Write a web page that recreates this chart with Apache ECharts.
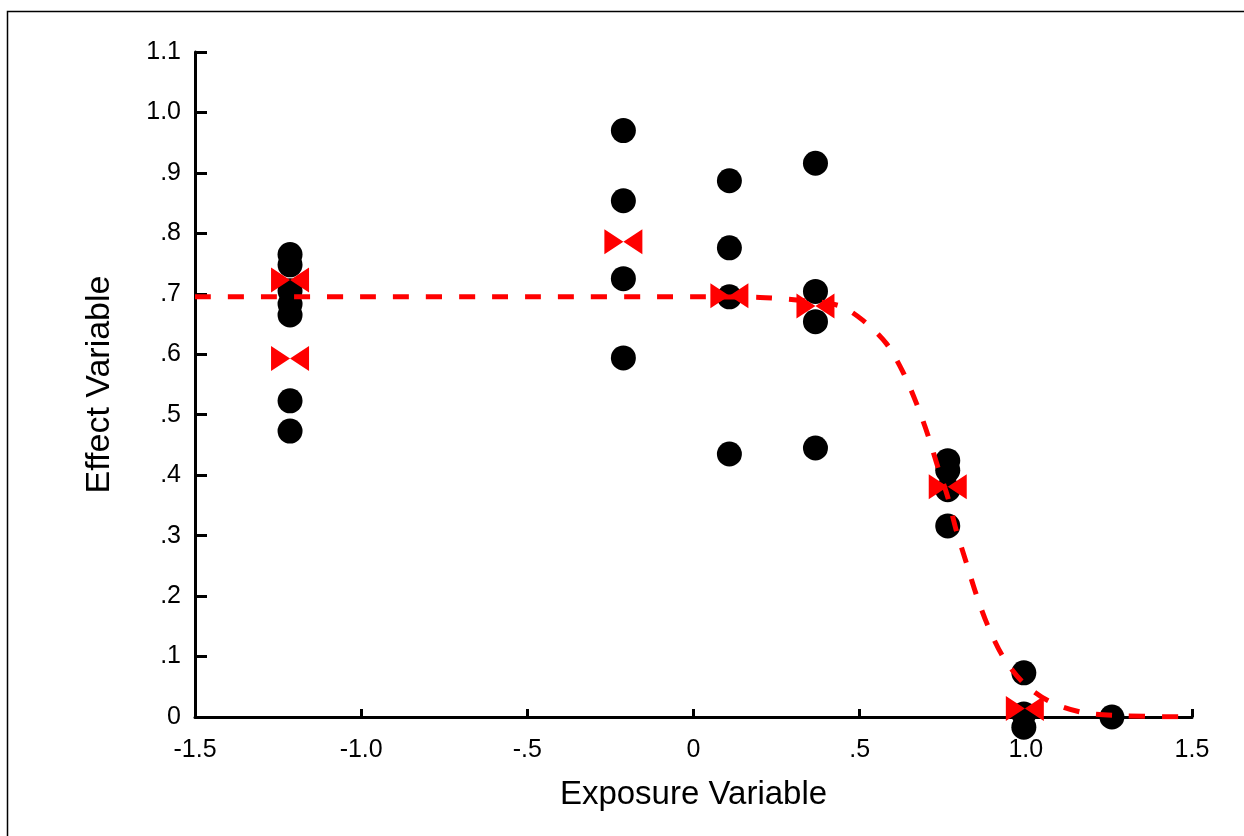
<!DOCTYPE html>
<html>
<head>
<meta charset="utf-8">
<title>Effect vs Exposure</title>
<script src="https://cdn.jsdelivr.net/npm/echarts@6/dist/echarts.min.js"></script>
<style>
  html, body { margin: 0; padding: 0; background: #fff; }
  #main { width: 1244px; height: 836px; }
</style>
</head>
<body>
<div id="main"></div>
<script>
// observed points (black dots)
var obsX = [-1.214, -1.214, -1.214, -1.214, -1.214, -1.214, -1.214,
            -0.211, -0.211, -0.211, -0.211,
            0.108, 0.108, 0.108, 0.108,
            0.367, 0.367, 0.367, 0.367,
            0.765, 0.765, 0.765, 0.765,
            0.994, 0.994, 0.994,
            1.259];
var obsY = [0.765, 0.748, 0.705, 0.683, 0.665, 0.523, 0.473,
            0.970, 0.854, 0.725, 0.594,
            0.887, 0.776, 0.695, 0.435,
            0.916, 0.704, 0.654, 0.445,
            0.424, 0.408, 0.376, 0.316,
            0.073, 0.005, -0.017,
            0.0];

// red bow-tie markers
var meanX = [-1.214, -1.214, -0.211, 0.108, 0.367, 0.765, 0.997];
var meanY = [0.723, 0.593, 0.786, 0.697, 0.680, 0.381, 0.014];

// fitted curve (red dashed)
var fitX = [-1.5, -1.0, -0.5, 0.0, 0.2, 0.33, 0.44, 0.51, 0.58, 0.63, 0.67, 0.705,
            0.735, 0.765, 0.79, 0.82, 0.85, 0.885, 0.93, 0.99, 1.07, 1.175, 1.3, 1.5];
var fitY = [0.695, 0.695, 0.695, 0.695, 0.694, 0.689, 0.680, 0.656, 0.618, 0.571, 0.520, 0.467,
            0.414, 0.364, 0.310, 0.257, 0.204, 0.152, 0.101, 0.058, 0.026, 0.007, 0.002, 0.0];

var xTicks = { '-1.5': '-1.5', '-1': '-1.0', '-0.5': '-.5', '0': '0', '0.5': '.5', '1': '1.0', '1.5': '1.5' };
var yTicks = ['0', '.1', '.2', '.3', '.4', '.5', '.6', '.7', '.8', '.9', '1.0', '1.1'];

var font = 'Liberation Sans, Arial, sans-serif';

function zip(xs, ys) {
    return xs.map(function (x, i) { return [x, ys[i]]; });
}

var chart = echarts.init(document.getElementById('main'));

var option = {
    backgroundColor: '#fff',
    animation: false,
    graphic: [{
        type: 'rect',
        shape: { x: 7.5, y: 11.5, width: 1250, height: 840 },
        style: { fill: 'none', stroke: '#000', lineWidth: 1.5 },
        silent: true
    }],
    grid: { left: 195, right: 52, top: 52, bottom: 119 },
    xAxis: {
        type: 'value',
        min: -1.5,
        max: 1.5,
        interval: 0.5,
        name: 'Exposure Variable',
        nameLocation: 'middle',
        nameGap: 61,
        nameTextStyle: { fontFamily: font, fontSize: 33, color: '#000' },
        axisLine: { onZero: false, lineStyle: { color: '#000', width: 3 } },
        axisTick: { inside: true, length: 8, lineStyle: { color: '#000', width: 3 } },
        axisLabel: {
            margin: 21,
            fontFamily: font,
            fontSize: 25,
            color: '#000',
            formatter: function (v) { return xTicks[String(Math.round(v * 10) / 10)]; }
        },
        splitLine: { show: false }
    },
    yAxis: {
        type: 'value',
        min: 0,
        max: 1.1,
        interval: 0.1,
        name: 'Effect Variable',
        nameLocation: 'middle',
        nameRotate: 90,
        nameGap: 78,
        nameTextStyle: { fontFamily: font, fontSize: 34, color: '#000' },
        axisLine: { show: true, onZero: false, lineStyle: { color: '#000', width: 3 } },
        axisTick: { show: true, inside: true, length: 12, lineStyle: { color: '#000', width: 3 } },
        axisLabel: {
            margin: 14,
            fontFamily: font,
            fontSize: 25,
            color: '#000',
            formatter: function (v) { return yTicks[Math.round(v * 10)]; }
        },
        splitLine: { show: false }
    },
    series: [
        {
            name: 'observed',
            type: 'scatter',
            clip: false,
            z: 2,
            symbol: 'circle',
            symbolSize: 25,
            itemStyle: { color: '#000', opacity: 1 },
            data: zip(obsX, obsY)
        },
        {
            name: 'mean',
            type: 'scatter',
            clip: false,
            z: 3,
            symbol: 'path://M0,0L19,12.5L0,25Z M38,0L19,12.5L38,25Z',
            symbolSize: [38, 25],
            itemStyle: { color: '#ff0000', opacity: 1 },
            data: zip(meanX, meanY)
        },
        {
            name: 'fit',
            type: 'line',
            z: 4,
            smooth: 0.3,
            showSymbol: false,
            symbol: 'none',
            lineStyle: { color: '#ff0000', width: 5, type: [16, 17], cap: 'butt' },
            data: zip(fitX, fitY)
        }
    ]
};

chart.setOption(option);
</script>
</body>
</html>
